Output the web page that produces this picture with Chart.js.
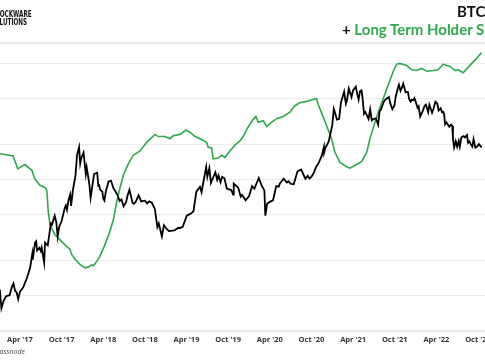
<!DOCTYPE html>
<html>
<head>
<meta charset="utf-8">
<script src="https://cdn.jsdelivr.net/npm/chart.js@4.4.0/dist/chart.umd.min.js"></script>
<style>
  html, body { margin: 0; padding: 0; background: #fff; }
  body { width: 485px; height: 360px; overflow: hidden; position: relative; }
  .chart-box { position: absolute; left: 0; top: 0; width: 520px; height: 360px; }
  .logo { position: absolute; font-family: "DejaVu Sans Condensed", "Liberation Sans Narrow", sans-serif;
          font-weight: bold; font-size: 9px; line-height: 8px; color: #111; text-align: right;
          white-space: nowrap; transform: scaleX(0.7); transform-origin: right center; }
  .title { position: absolute; font-family: Lato, sans-serif; font-weight: bold; font-size: 15px;
           line-height: 15px; white-space: nowrap; color: #111; }
  .title .green { color: #2fa84f; }
  .divider { position: absolute; left: 0; top: 42px; width: 485px; height: 2px; background: #e9e9e9; }
  .source { position: absolute; font-family: "Open Sans", sans-serif; font-style: italic;
            font-size: 7px; line-height: 8px; color: #444; text-align: right; white-space: nowrap; }
</style>
</head>
<body>
<div class="chart-box"><canvas id="btcChart"></canvas></div>
<div class="logo" style="right:453px; top:10px;">BLOCKWARE</div>
<div class="logo" style="right:458px; top:18px;">SOLUTIONS</div>
<div class="title" style="left:457px; top:4px;">BTC Price</div>
<div class="title" style="left:342px; top:22px;">+ <span class="green">Long Term Holder Supply</span></div>
<div class="divider"></div>
<div class="source" style="right:460px; top:348px;">Source: glassnode</div>
<script>
// BTC price (USD, log axis)
const btcDates = [
  // 2017
  '2017-01-01','2017-01-04','2017-01-11','2017-01-20','2017-02-01','2017-02-15','2017-02-24','2017-03-03',
  '2017-03-10','2017-03-17','2017-03-24','2017-04-01','2017-04-15','2017-05-01','2017-05-15','2017-05-25',
  '2017-05-27','2017-06-06','2017-06-11','2017-06-15','2017-06-25','2017-07-01','2017-07-05','2017-07-16',
  '2017-07-20','2017-08-01','2017-08-15','2017-08-20','2017-09-01','2017-09-08','2017-09-14','2017-09-20',
  '2017-10-01','2017-10-15','2017-10-20','2017-10-25','2017-11-01','2017-11-08','2017-11-12','2017-11-20',
  '2017-12-01','2017-12-08','2017-12-17','2017-12-22','2017-12-27',
  // 2018
  '2018-01-06','2018-01-16','2018-01-20','2018-02-01','2018-02-06','2018-02-20','2018-03-05','2018-03-10',
  '2018-03-13','2018-03-18','2018-03-28','2018-04-01','2018-04-06','2018-04-12','2018-04-24','2018-05-05',
  '2018-05-15','2018-06-01','2018-06-12','2018-06-20','2018-06-29','2018-07-10','2018-07-17','2018-07-25',
  '2018-08-08','2018-08-14','2018-08-23','2018-09-04','2018-09-15','2018-10-01','2018-10-11','2018-10-20',
  '2018-11-01','2018-11-14','2018-11-25','2018-12-01','2018-12-15','2018-12-24',
  // 2019
  '2019-01-01','2019-01-15','2019-02-08','2019-02-24','2019-03-01','2019-03-15','2019-04-02','2019-04-15',
  '2019-04-25','2019-05-01','2019-05-14','2019-05-30','2019-06-06','2019-06-26','2019-07-01','2019-07-10',
  '2019-07-17','2019-08-06','2019-08-14','2019-08-20','2019-08-29','2019-09-05','2019-09-15','2019-09-25',
  '2019-10-15','2019-10-23','2019-10-26','2019-11-15','2019-11-25','2019-12-01','2019-12-17',
  // 2020
  '2020-01-01','2020-01-15','2020-01-25','2020-02-13','2020-02-26','2020-03-01','2020-03-08','2020-03-12',
  '2020-03-20','2020-04-01','2020-04-15','2020-04-29','2020-05-10','2020-05-15','2020-06-01','2020-06-15',
  '2020-06-22','2020-07-01','2020-07-15','2020-07-27','2020-08-01','2020-08-17','2020-09-05','2020-09-15',
  '2020-09-23','2020-10-01','2020-10-10','2020-10-21','2020-11-01','2020-11-15','2020-11-25','2020-11-26',
  '2020-12-01','2020-12-16',
  // 2021
  '2021-01-01','2021-01-08','2021-01-15','2021-01-22','2021-02-01','2021-02-08','2021-02-21','2021-02-28',
  '2021-03-05','2021-03-13','2021-03-25','2021-04-01','2021-04-13','2021-04-18','2021-04-25','2021-05-01',
  '2021-05-08','2021-05-13','2021-05-19','2021-05-25','2021-06-08','2021-06-15','2021-06-22','2021-07-01',
  '2021-07-10','2021-07-20','2021-07-27','2021-08-01','2021-08-14','2021-08-22','2021-09-06','2021-09-13',
  '2021-09-21','2021-09-30','2021-10-05','2021-10-15','2021-10-20','2021-10-27','2021-11-01','2021-11-08',
  '2021-11-18','2021-11-28','2021-12-04','2021-12-10','2021-12-15','2021-12-22','2021-12-27',
  // 2022
  '2022-01-01','2022-01-10','2022-01-15','2022-01-22','2022-02-01','2022-02-10','2022-02-15','2022-02-24',
  '2022-03-01','2022-03-13','2022-03-20','2022-03-28','2022-04-05','2022-04-11','2022-04-20','2022-04-26',
  '2022-05-01','2022-05-05','2022-05-09','2022-05-15','2022-05-28','2022-06-05','2022-06-10','2022-06-13',
  '2022-06-18','2022-06-25','2022-07-01','2022-07-08','2022-07-13','2022-07-20','2022-07-30','2022-08-05',
  '2022-08-14','2022-08-19','2022-08-25','2022-09-01','2022-09-07','2022-09-12','2022-09-20','2022-09-28',
  '2022-10-05','2022-10-13','2022-10-19'
];
const btcPrice = [
  // 2017
  998, 1130, 780, 895, 990, 1010, 1180, 1275,
  1100, 1070, 935, 1080, 1180, 1420, 1730, 2300,
  2050, 2870, 2950, 2450, 2590, 2430, 2600, 1930,
  2870, 2720, 4200, 4100, 4900, 4300, 3230, 3900,
  4400, 5700, 6000, 5500, 6700, 7450, 5950, 8200,
  10900, 16400, 19100, 13800, 15400,
  // 2018
  17150, 11200, 12800, 9100, 7000, 11200, 11500, 8800,
  9150, 8200, 7900, 6850, 6600, 7900, 9650, 9800,
  8500, 7500, 6550, 6750, 5900, 6400, 7350, 8200,
  6300, 6200, 6500, 7350, 6500, 6600, 6250, 6500,
  6350, 5600, 3900, 4200, 3250, 4050,
  // 2019
  3850, 3600, 3650, 3850, 3820, 3920, 4900, 5050,
  5200, 5350, 7900, 8700, 7800, 12900, 10600, 12600,
  9400, 11600, 10000, 10900, 9500, 10600, 10300, 8400,
  8150, 7450, 9250, 8500, 7150, 7400, 6650,
  // 2020
  7200, 8800, 8350, 10350, 8800, 8550, 8050, 4900,
  6200, 6450, 6650, 8800, 8700, 9300, 10200, 9450,
  9700, 9230, 9150, 11000, 11800, 12250, 10200, 10800,
  10250, 10600, 11300, 12800, 13800, 15950, 19150, 17150,
  18800, 21300,
  // 2021
  29400, 40700, 36800, 33000, 33500, 46200, 57500, 45200,
  48500, 61200, 51700, 58900, 63500, 56200, 49000, 57800,
  58800, 49700, 37000, 38400, 33400, 40500, 32500, 33500,
  33800, 29800, 39400, 39900, 47000, 49300, 51800, 44900,
  40700, 43800, 51500, 61600, 66000, 58500, 61300, 67500,
  56900, 57200, 49400, 47100, 48900, 48600, 50600,
  // 2022
  47700, 41800, 43100, 35100, 38700, 43500, 44500, 38300,
  44400, 37800, 41300, 47100, 45500, 39500, 41400, 38100,
  38500, 36500, 30100, 31300, 28600, 29900, 29100, 22500,
  19000, 21500, 19300, 21600, 19300, 23200, 23800, 23200,
  24300, 20800, 21400, 20100, 19300, 22400, 18900, 19400,
  20300, 19400, 19100
];

// Long term holder supply (million BTC, right axis)
const lthDates = [
  '2017-01-04','2017-03-01','2017-03-22','2017-04-22','2017-05-23','2017-06-05','2017-06-27','2017-07-19',
  '2017-07-28','2017-08-03','2017-08-11','2017-09-02','2017-09-24','2017-10-23','2017-11-07','2017-11-14',
  '2017-11-29','2017-12-21','2018-01-12','2018-01-27','2018-02-10','2018-02-17','2018-03-03','2018-03-17',
  '2018-04-08','2018-04-30','2018-05-15','2018-05-30','2018-06-13','2018-06-28','2018-07-20','2018-08-11',
  '2018-09-10','2018-10-09','2018-11-15','2018-11-29','2018-12-29','2019-01-20','2019-02-03','2019-03-03',
  '2019-03-29','2019-04-16','2019-05-08','2019-05-30','2019-06-28','2019-07-05','2019-07-20','2019-07-27',
  '2019-08-19','2019-09-03','2019-09-17','2019-10-09','2019-10-31','2019-11-22','2019-12-06','2019-12-28',
  '2020-01-20','2020-02-01','2020-02-11','2020-03-03','2020-03-18','2020-04-09','2020-05-01','2020-05-30',
  '2020-06-28','2020-07-20','2020-08-11','2020-09-10','2020-10-24','2020-10-31','2020-11-15','2020-12-07',
  '2020-12-29','2021-01-13','2021-02-04','2021-03-03','2021-03-18','2021-04-16','2021-05-08','2021-05-31',
  '2021-06-14','2021-07-06','2021-07-28','2021-08-27','2021-09-25','2021-10-10','2021-10-24','2021-11-23',
  '2021-12-15','2022-01-06','2022-01-28','2022-02-18','2022-03-18','2022-04-09','2022-05-01','2022-05-16',
  '2022-05-30','2022-06-22','2022-07-06','2022-07-28','2022-08-12','2022-09-04','2022-09-26','2022-10-17'
];
const lthSupply = [
  12.47, 12.44, 12.26, 12.32, 12.24, 12.12, 12.03, 12.00,
  11.96, 11.67, 11.48, 11.34, 11.27, 11.18, 11.14, 11.07,
  11.00, 10.93, 10.88, 10.89, 10.92, 10.91, 10.97, 11.04,
  11.20, 11.39, 11.55, 11.80, 11.99, 12.17, 12.33, 12.45,
  12.51, 12.63, 12.74, 12.71, 12.71, 12.68, 12.72, 12.74,
  12.80, 12.77, 12.71, 12.68, 12.63, 12.56, 12.55, 12.40,
  12.41, 12.45, 12.42, 12.51, 12.59, 12.65, 12.71, 12.84,
  12.95, 12.99, 12.91, 12.93, 12.85, 12.91, 12.96, 12.99,
  13.05, 13.14, 13.18, 13.20, 13.24, 13.16, 13.04, 12.86,
  12.68, 12.49, 12.35, 12.29, 12.27, 12.32, 12.36, 12.49,
  12.68, 12.91, 13.11, 13.37, 13.62, 13.72, 13.73, 13.70,
  13.64, 13.63, 13.66, 13.62, 13.63, 13.64, 13.72, 13.70,
  13.69, 13.63, 13.64, 13.60, 13.65, 13.73, 13.80, 13.88
];

// x axis labels
const tickDates = ['2017-04-01','2017-10-01','2018-04-01','2018-10-01','2019-04-01','2019-10-01',
                   '2020-04-01','2020-10-01','2021-04-01','2021-10-01','2022-04-01','2022-10-01'];
const tickLabels = ["Apr '17","Oct '17","Apr '18","Oct '18","Apr '19","Oct '19",
                    "Apr '20","Oct '20","Apr '21","Oct '21","Apr '22","Oct '22"];
const priceGrid = [500, 1000, 2000, 5000, 10000, 20000, 50000, 100000];

// months since Oct 2016 (fractional)
function toMonth(str) {
  const [y, m, d] = str.split('-').map(Number);
  const days = new Date(y, m, 0).getDate();
  return (y - 2016) * 12 + (m - 1) - 9 + (d - 1) / days;
}

const btcPoints = btcDates.map((d, i) => ({ x: toMonth(d), y: btcPrice[i] }));
const lthPoints = lthDates.map((d, i) => ({ x: toMonth(d), y: lthSupply[i] }));
const tickPos = tickDates.map(toMonth);

new Chart(document.getElementById('btcChart'), {
  type: 'line',
  data: {
    datasets: [
      {
        label: 'BTC Price',
        data: btcPoints,
        borderColor: '#000',
        borderWidth: 1.8,
        pointRadius: 0,
        yAxisID: 'y'
      },
      {
        label: 'Long Term Holder Supply',
        data: lthPoints,
        borderColor: '#2fa84f',
        borderWidth: 1.6,
        pointRadius: 0,
        yAxisID: 'y2'
      }
    ]
  },
  options: {
    responsive: true,
    maintainAspectRatio: false,
    animation: false,
    layout: { padding: { top: 44, bottom: 12, left: 0, right: 0 } },
    plugins: { legend: { display: false }, tooltip: { enabled: false } },
    scales: {
      x: {
        type: 'linear',
        min: 3.12,
        max: 78.06,
        afterBuildTicks: scale => { scale.ticks = tickPos.map(v => ({ value: v })); },
        grid: { display: false, drawTicks: false },
        border: { display: true, color: '#e6e6e6' },
        ticks: {
          autoSkip: false,
          maxRotation: 0,
          padding: 4,
          color: '#333',
          font: { family: 'Open Sans', size: 7.5, weight: 'bold' },
          callback: (v, i) => tickLabels[i]
        }
      },
      y: {
        type: 'logarithmic',
        position: 'left',
        min: 495.7,
        max: 148200,
        afterBuildTicks: scale => { scale.ticks = priceGrid.map(v => ({ value: v })); },
        grid: { color: '#ececec', drawTicks: false },
        border: { display: false },
        ticks: { display: false }
      },
      y2: {
        type: 'linear',
        position: 'right',
        display: false,
        min: 10,
        max: 14
      }
    }
  }
});
</script>
</body>
</html>
